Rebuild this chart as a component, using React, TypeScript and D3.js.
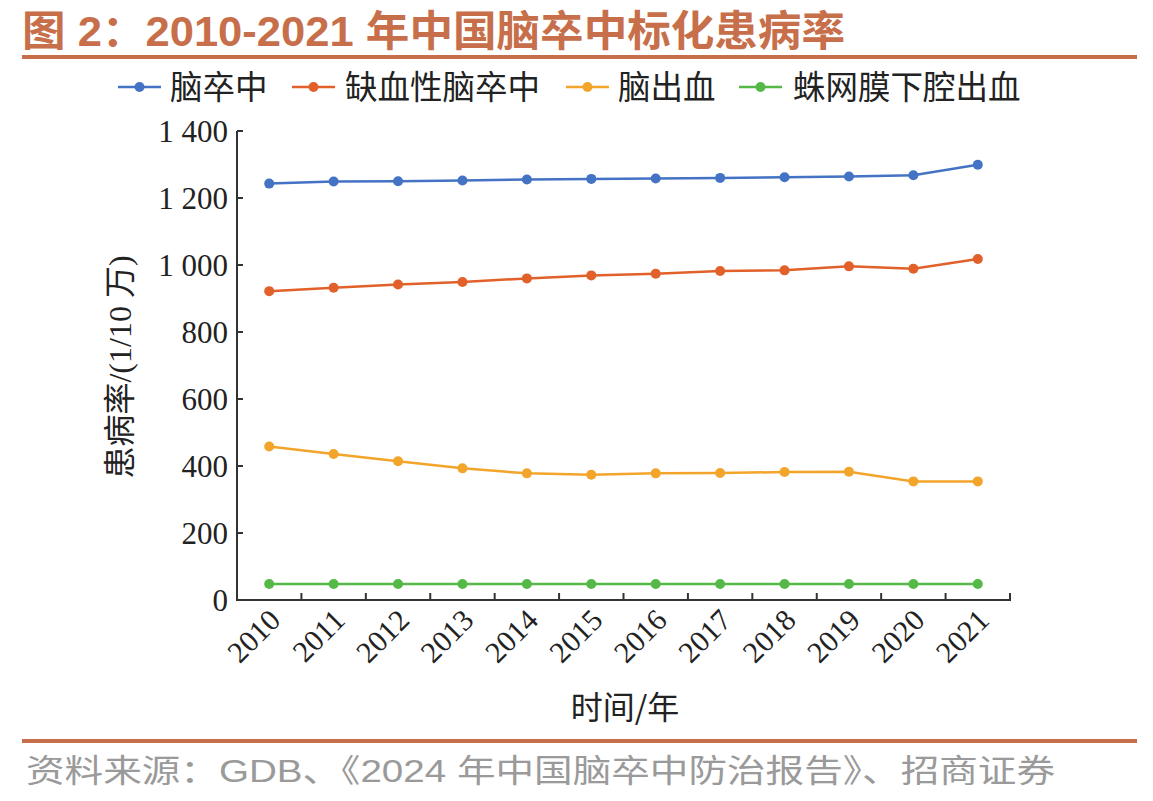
import React from 'react';
import * as d3 from 'd3';

const years = ['2010', '2011', '2012', '2013', '2014', '2015', '2016', '2017', '2018', '2019', '2020', '2021'];
const strokeAll = [1243, 1249, 1250, 1252, 1255, 1257, 1258, 1260, 1262, 1264, 1268, 1299];
const ischemic = [922, 932, 942, 949, 960, 969, 974, 982, 984, 996, 989, 1018];
const hemorrhage = [458, 436, 414, 393, 378, 374, 378, 379, 382, 383, 354, 354];
const sah = [48, 48, 48, 48, 48, 48, 48, 48, 48, 48, 48, 48];
const seriesNames = ['脑卒中', '缺血性脑卒中', '脑出血', '蛛网膜下腔出血'];
const seriesColors = ['#4472C4', '#E2602A', '#F2A52A', '#55B948'];
const yTicks = [0, 200, 400, 600, 800, 1000, 1200, 1400];

const titleText = '图 2：2010-2021 年中国脑卒中标化患病率';
const sourceText = '资料来源：GDB、《2024 年中国脑卒中防治报告》、招商证券';
const yAxisTitle = '患病率/(1/10 万)';
const xAxisTitle = '时间/年';

const brown = '#C76F4B';
const serif = '"Liberation Serif", "Times New Roman", "Noto Sans CJK SC", serif';
const cjk = '"Noto Sans CJK SC", sans-serif';

export default function App() {
  const W = 1153, H = 801;
  const x = d3.scaleBand<string>().domain(years).range([237, 1010]);
  const y = d3.scaleLinear().domain([0, 1400]).range([600, 131]);
  const allSeries = [strokeAll, ischemic, hemorrhage, sah];
  const line = d3.line<number>().x((_, i) => (x(years[i]) as number) + x.bandwidth() / 2).y((d) => y(d));
  const fmt = (v: number) => (v >= 1000 ? `${Math.floor(v / 1000)} ${String(v % 1000).padStart(3, '0')}` : String(v));
  const legendX = [[118, 170], [292, 345], [566, 618], [739, 793]];
  const boundaries = years.map((yr) => x(yr) as number).concat([1010]);

  return (
    <svg width={W} height={H} style={{ position: 'absolute', left: 0, top: 0, background: '#fff' }}>
      <text x={22} y={46} fontFamily={'"Liberation Sans", Arial, "Noto Sans CJK SC", sans-serif'} fontWeight="bold" fontSize={42} fill={brown} textLength={823} lengthAdjust="spacingAndGlyphs">{titleText}</text>
      <rect x={22} y={55} width={1115} height={4} fill={brown} />

      {seriesNames.map((n, i) => (
        <g key={n}>
          <line x1={legendX[i][0]} x2={legendX[i][0] + 43} y1={87} y2={87} stroke={seriesColors[i]} strokeWidth={2.5} />
          <circle cx={legendX[i][0] + 21.5} cy={87} r={5} fill={seriesColors[i]} />
          <text x={legendX[i][1]} y={99} fontFamily={cjk} fontSize={32.5} fill="#222">{n}</text>
        </g>
      ))}

      {/* axes */}
      <line x1={237} x2={237} y1={131} y2={601} stroke="#333" strokeWidth={2} />
      <line x1={236} x2={1011} y1={600} y2={600} stroke="#333" strokeWidth={2} />
      {yTicks.map((t) => (
        <g key={t}>
          <line x1={237} x2={243} y1={y(t)} y2={y(t)} stroke="#333" strokeWidth={2} />
          <text x={228} y={y(t) + 11} textAnchor="end" fontFamily={serif} fontSize={31} fill="#222">{fmt(t)}</text>
        </g>
      ))}
      {boundaries.map((b, i) => (
        <line key={i} x1={b} x2={b} y1={600} y2={593} stroke="#333" strokeWidth={2} />
      ))}
      {years.map((yr) => {
        const cx = (x(yr) as number) + x.bandwidth() / 2 + 13;
        const cy = 622;
        return (
          <text key={yr} x={cx} y={cy} transform={`rotate(-45 ${cx} ${cy})`} textAnchor="end" fontFamily={serif} fontSize={30} fill="#222">{yr}</text>
        );
      })}
      <text x={625} y={719} textAnchor="middle" fontFamily={cjk} fontSize={32} fill="#222">{xAxisTitle}</text>
      <text x={0} y={0} transform="translate(131 367) rotate(-90)" textAnchor="middle" fontFamily={'"Liberation Serif", "Noto Sans CJK SC", serif'} fontSize={32} fill="#222">{yAxisTitle}</text>

      {/* series */}
      {allSeries.map((s, si) => (
        <g key={si}>
          <path d={line(s) as string} fill="none" stroke={seriesColors[si]} strokeWidth={2.5} />
          {s.map((v, i) => (
            <circle key={i} cx={(x(years[i]) as number) + x.bandwidth() / 2} cy={y(v)} r={5} fill={seriesColors[si]} />
          ))}
        </g>
      ))}

      <rect x={22} y={739} width={1115} height={4} fill={brown} />
      <text x={26} y={782} fontFamily={'"Liberation Sans", Arial, "Noto Sans CJK SC", sans-serif'} fontSize={32} fill="#9A9A9A" textLength={1029} lengthAdjust="spacingAndGlyphs">{sourceText}</text>
    </svg>
  );
}
